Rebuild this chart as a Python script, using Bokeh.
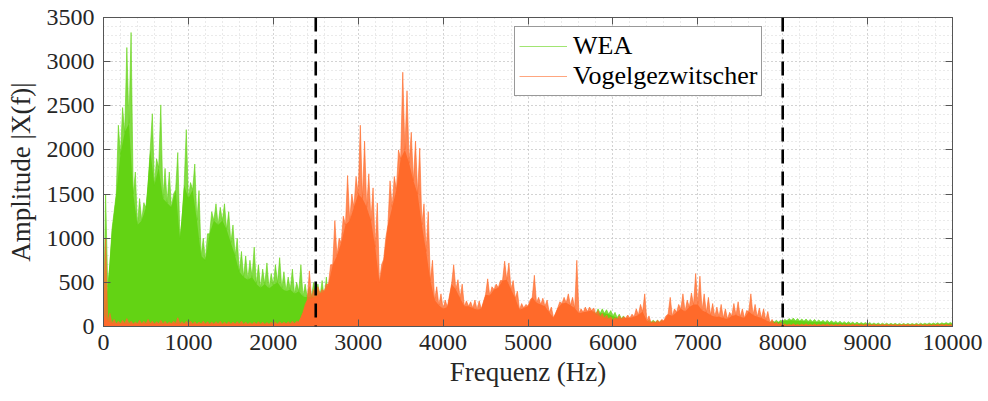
import numpy as np
from bokeh.plotting import figure
from bokeh.models import (SingleIntervalTicker, LinearAxis, Range1d, Span,
                          Legend, LegendItem, ColumnDataSource, CustomJSTickFormatter)
from bokeh.embed import file_html
from bokeh.resources import INLINE

# ---------------- data (50 Hz bins) ----------------
bin_width_hz = 50
bin_start_hz = list(range(0, 10000, bin_width_hz))

# WEA (wind turbine) spectrum: peak amplitude and dense body level per bin
wea_peak = [
    1500, 700, 1300, 2280, 2480, 3160, 3330, 1750, 1450, 1400, 1600, 2410, 1900, 2510, 1790, 1750, 1500, 1970, 1200, 2230,
    1630, 1840, 1540, 1000, 1050, 1300, 1390, 1350, 1390, 1300, 1150, 1000, 850, 800, 750, 900, 700, 650, 720, 600,
    700, 780, 620, 560, 650, 500, 700, 480, 450, 500, 480, 520, 560, 400, 80, 70, 60, 70, 60, 70,
    60, 70, 60, 65, 70, 60, 55, 60, 70, 65, 60, 70, 60, 55, 60, 65, 60, 55, 60, 65,
    60, 65, 70, 60, 55, 60, 65, 60, 70, 60, 55, 60, 65, 60, 70, 60, 55, 60, 65, 60,
    60, 65, 60, 55, 60, 65, 60, 70, 60, 65, 60, 55, 60, 70, 170, 170, 200, 200, 190, 180,
    160, 140, 120, 100, 90, 80, 75, 70, 70, 70, 70, 70, 65, 65, 60, 60, 60, 60, 60, 60,
    60, 60, 60, 60, 55, 55, 60, 60, 60, 60, 55, 55, 60, 60, 60, 60, 60, 65, 70, 70,
    80, 90, 95, 90, 85, 85, 80, 80, 75, 70, 70, 65, 60, 60, 55, 55, 50, 50, 45, 45,
    45, 40, 40, 38, 38, 36, 36, 35, 35, 35, 35, 36, 38, 38, 40, 40, 42, 42, 44, 45,
]
wea_body = [
    100, 450, 1100, 1500, 1950, 2200, 2300, 1500, 1150, 1200, 1350, 2000, 1600, 1800, 1450, 1400, 1350, 1550, 1000, 1600,
    1450, 1550, 1200, 800, 750, 1050, 1200, 1150, 1200, 1100, 950, 800, 620, 560, 530, 560, 480, 440, 480, 430,
    470, 500, 430, 400, 420, 370, 400, 340, 330, 340, 330, 340, 320, 220, 40, 35, 30, 35, 30, 35,
    30, 35, 30, 32, 35, 30, 28, 30, 35, 32, 30, 35, 30, 28, 30, 32, 30, 28, 30, 32,
    30, 32, 35, 30, 28, 30, 32, 30, 35, 30, 28, 30, 32, 30, 35, 30, 28, 30, 32, 30,
    30, 32, 30, 28, 30, 32, 30, 35, 30, 32, 30, 28, 30, 35, 120, 120, 140, 150, 150, 140,
    120, 100, 90, 80, 70, 60, 55, 50, 50, 50, 50, 50, 45, 45, 40, 40, 40, 40, 40, 40,
    40, 40, 40, 40, 38, 38, 40, 40, 40, 40, 38, 38, 40, 40, 40, 40, 40, 45, 50, 50,
    60, 65, 70, 65, 62, 60, 58, 55, 52, 50, 48, 45, 42, 40, 38, 36, 34, 32, 30, 30,
    28, 26, 25, 24, 24, 23, 23, 22, 22, 22, 22, 23, 24, 25, 26, 27, 28, 29, 30, 32,
]

# Vogelgezwitscher (bird song) spectrum
vogel_peak = [
    1000, 150, 80, 60, 70, 90, 60, 50, 70, 60, 80, 60, 55, 70, 60, 50, 60, 100, 55, 60,
    60, 55, 50, 60, 55, 50, 55, 60, 50, 55, 50, 55, 60, 50, 45, 50, 55, 50, 45, 50,
    50, 55, 50, 55, 60, 60, 100, 250, 630, 420, 450, 420, 480, 700, 1200, 1000, 1250, 1710, 1500, 1700,
    2280, 2100, 1730, 1570, 1400, 700, 1000, 1650, 1700, 2000, 2880, 2670, 2200, 2100, 2020, 1390, 1300, 750, 450, 370,
    300, 350, 700, 530, 480, 290, 280, 300, 290, 280, 540, 450, 480, 520, 740, 720, 520, 400, 260, 250,
    300, 580, 330, 320, 300, 220, 150, 280, 330, 370, 330, 750, 200, 220, 220, 210, 180, 150, 130, 110,
    100, 120, 110, 130, 140, 200, 250, 370, 120, 60, 70, 80, 120, 330, 200, 250, 370, 300, 380, 600,
    570, 370, 330, 260, 220, 250, 200, 160, 260, 280, 200, 180, 370, 250, 210, 200, 170, 80, 50, 45,
    30, 28, 30, 25, 28, 30, 26, 28, 25, 27, 30, 26, 25, 28, 26, 25, 27, 25, 26, 25,
    25, 26, 24, 25, 26, 24, 25, 24, 26, 25, 24, 25, 26, 24, 25, 24, 25, 26, 25, 24,
]
vogel_body = [
    150, 60, 35, 30, 30, 35, 30, 28, 30, 30, 32, 30, 28, 30, 28, 28, 30, 35, 28, 28,
    28, 27, 26, 28, 27, 26, 27, 28, 26, 27, 26, 27, 28, 26, 25, 26, 27, 26, 25, 26,
    28, 28, 30, 30, 32, 35, 50, 160, 300, 320, 340, 370, 400, 480, 700, 800, 950, 1150, 1200, 1350,
    1500, 1450, 1350, 1200, 900, 500, 760, 1150, 1350, 1550, 1900, 2000, 1850, 1650, 1500, 1150, 850, 520, 300, 240,
    200, 220, 480, 420, 320, 230, 230, 210, 190, 200, 360, 350, 420, 440, 520, 530, 420, 320, 190, 210,
    230, 330, 270, 250, 230, 160, 100, 210, 260, 270, 240, 210, 150, 160, 170, 180, 140, 110, 95, 85,
    75, 85, 85, 95, 95, 110, 130, 170, 65, 40, 42, 48, 65, 140, 120, 160, 200, 170, 220, 250,
    250, 180, 160, 130, 110, 110, 95, 85, 120, 130, 110, 95, 170, 130, 110, 95, 75, 42, 30, 25,
    15, 14, 15, 13, 14, 15, 13, 14, 13, 14, 15, 13, 13, 14, 13, 13, 14, 13, 13, 13,
    13, 13, 12, 13, 13, 12, 13, 12, 13, 13, 12, 13, 13, 12, 13, 12, 13, 13, 13, 12,
]

marker_freqs = [2500, 8000]
series_names = ["WEA", "Vogelgezwitscher"]
series_colors = ["#63d314", "#ff6a2a"]

# ---------------- figure ----------------
FONT = "Liberation Serif"
AX_COLOR = "#555555"
TXT_COLOR = "#262626"

p = figure(width=988, height=401, output_backend="svg", toolbar_location=None,
           x_range=Range1d(0, 10000), y_range=Range1d(0, 3500),
           min_border_left=103, min_border_right=36, min_border_top=17, min_border_bottom=75,
           background_fill_color="white", border_fill_color="white")
p.outline_line_color = AX_COLOR
p.outline_line_width = 1


def zigzag(body, peak):
    xs, ys = [], []
    for f, b, pk in zip(bin_start_hz, body, peak):
        xs += [f, f + bin_width_hz / 2]
        ys += [b, pk]
    xs.append(bin_start_hz[-1] + bin_width_hz)
    ys.append(body[-1])
    return xs, ys


renderers = []
for body, peak, color in [(wea_body, wea_peak, series_colors[0]),
                          (vogel_body, vogel_peak, series_colors[1])]:
    zx, zy = zigzag(body, peak)
    src_z = ColumnDataSource(dict(x=zx, y=zy, y0=[0] * len(zx)))
    bx = list(bin_start_hz) + [bin_start_hz[-1] + bin_width_hz]
    by = list(body) + [body[-1]]
    src_b = ColumnDataSource(dict(x=bx, y=by, y0=[0] * len(bx)))
    p.varea(x="x", y1="y0", y2="y", source=src_z, fill_color=color, fill_alpha=0.8)
    p.varea(x="x", y1="y0", y2="y", source=src_b, fill_color=color, fill_alpha=1.0)
    r = p.line(x="x", y="y", source=src_z, line_color=color, line_width=1, line_alpha=0.6)
    renderers.append(r)

for f in marker_freqs:
    p.add_layout(Span(location=f, dimension="height", line_color="black",
                      line_width=2.6, line_dash="14 8"))

# axes
p.xaxis.ticker = SingleIntervalTicker(interval=1000, num_minor_ticks=5)
p.yaxis.ticker = SingleIntervalTicker(interval=500, num_minor_ticks=5)

for ax in [p.xaxis[0], p.yaxis[0]]:
    ax.axis_line_color = AX_COLOR
    ax.major_tick_line_color = AX_COLOR
    ax.major_tick_in = 7
    ax.major_tick_out = 0
    ax.minor_tick_in = 0
    ax.minor_tick_out = 0
    ax.major_label_text_font = FONT
    ax.major_label_text_font_size = "24px"
    ax.major_label_text_color = TXT_COLOR
    ax.axis_label_text_font = FONT
    ax.axis_label_text_font_size = "27px"
    ax.axis_label_text_font_style = "normal"
    ax.axis_label_text_color = TXT_COLOR

p.xaxis.axis_label = "Frequenz (Hz)"
p.yaxis.axis_label = "Amplitude |X(f)|"
p.xaxis.major_label_standoff = 8
p.xaxis.axis_label_standoff = 4
p.yaxis.major_label_standoff = 9
p.yaxis.axis_label_standoff = 8

blank = CustomJSTickFormatter(code="return ''")
top = LinearAxis(ticker=SingleIntervalTicker(interval=1000, num_minor_ticks=5), formatter=blank,
                 axis_line_color=AX_COLOR, major_tick_line_color=AX_COLOR,
                 major_tick_in=7, major_tick_out=0, minor_tick_in=0, minor_tick_out=0,
                 major_label_standoff=0, major_label_text_font_size="1px")
right = LinearAxis(ticker=SingleIntervalTicker(interval=500, num_minor_ticks=5), formatter=blank,
                   axis_line_color=AX_COLOR, major_tick_line_color=AX_COLOR,
                   major_tick_in=7, major_tick_out=0, minor_tick_in=0, minor_tick_out=0,
                   major_label_standoff=0, major_label_text_font_size="1px")
p.add_layout(top, "above")
p.add_layout(right, "right")

# grid: dotted major and minor
for g in [p.xgrid[0], p.ygrid[0]]:
    g.grid_line_color = "#bdbdbd"
    g.grid_line_dash = "1 3"
    g.grid_line_width = 1
    g.minor_grid_line_color = "#d4d4d4"
    g.minor_grid_line_dash = "1 3"
    g.minor_grid_line_width = 1
    g.level = "underlay"

legend = Legend(items=[LegendItem(label=series_names[0], renderers=[renderers[0]]),
                       LegendItem(label=series_names[1], renderers=[renderers[1]])],
                location=(411, 230))
legend.label_text_font = FONT
legend.label_text_font_size = "26px"
legend.label_text_line_height = 1.05
legend.label_text_color = "black"
legend.glyph_width = 48
legend.glyph_height = 20
legend.label_height = 20
legend.label_standoff = 6
legend.padding = 4
legend.spacing = 0
legend.margin = 0
legend.border_line_color = "#333333"
legend.border_line_width = 1
legend.background_fill_alpha = 1
p.add_layout(legend, "center")

open("out.html", "w").write(file_html(p, INLINE))
